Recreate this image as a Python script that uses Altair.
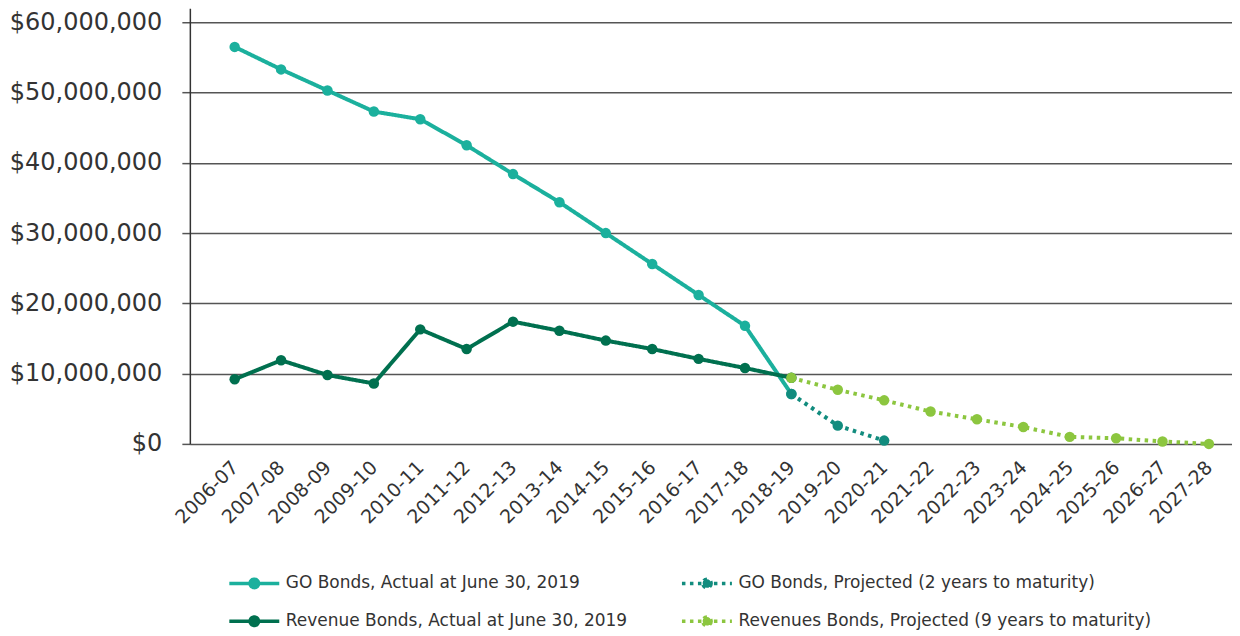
import altair as alt
import pandas as pd

years = ["2006-07", "2007-08", "2008-09", "2009-10", "2010-11", "2011-12", "2012-13",
         "2013-14", "2014-15", "2015-16", "2016-17", "2017-18", "2018-19", "2019-20",
         "2020-21", "2021-22", "2022-23", "2023-24", "2024-25", "2025-26", "2026-27",
         "2027-28"]

go_actual_years = years[0:13]
go_actual = [56.5, 53.3, 50.3, 47.3, 46.2, 42.5, 38.4, 34.4, 30.0, 25.6, 21.2, 16.8, 7.1]

rev_actual_years = years[0:13]
rev_actual = [9.2, 11.9, 9.8, 8.6, 16.3, 13.5, 17.4, 16.1, 14.7, 13.5, 12.1, 10.8, 9.4]

go_proj_years = years[12:15]
go_proj = [7.1, 2.6, 0.47]

rev_proj_years = years[12:22]
rev_proj = [9.4, 7.7, 6.2, 4.6, 3.5, 2.4, 1.0, 0.8, 0.35, 0.0]

# legend is filled column by column: left column = actual, right column = projected
series_names = [
    "GO Bonds, Actual at June 30, 2019",
    "Revenue Bonds, Actual at June 30, 2019",
    "GO Bonds, Projected (2 years to maturity)",
    "Revenues Bonds, Projected (9 years to maturity)",
]
series_colors = ["#1bb09d", "#00704f", "#128c7e", "#8cc63f"]
series_dash = [[1, 0], [1, 0], [3.5, 4.5], [3.5, 4.5]]

rows = []
draw_order = [
    (series_names[0], go_actual_years, go_actual),
    (series_names[1], rev_actual_years, rev_actual),
    (series_names[2], go_proj_years, go_proj),
    (series_names[3], rev_proj_years, rev_proj),
]
for k, (name, ys, vs) in enumerate(draw_order):
    for y, v in zip(ys, vs):
        rows.append({"year": y, "value": v * 1_000_000, "series": name, "ord": k})
df = pd.DataFrame(rows)

FONT = "DejaVu Sans"

x_enc = alt.X(
    "year:N",
    sort=years,
    scale=alt.Scale(domain=years, padding=0.732, align=0.66),
    axis=alt.Axis(
        title=None, labelAngle=-45, labelAlign="right", labelBaseline="middle",
        labelFontSize=19, labelFont=FONT, labelColor="#333333", ticks=False,
        domain=False, labelPadding=20, grid=False,
    ),
)
y_enc = alt.Y(
    "value:Q",
    scale=alt.Scale(domain=[0, 62_000_000], nice=False),
    axis=alt.Axis(
        title=None, values=[0, 10e6, 20e6, 30e6, 40e6, 50e6, 60e6], format="$,.0f",
        labelFontSize=24, labelFont=FONT, labelColor="#333333",
        tickSize=8, tickColor="#555555", tickWidth=1.5, labelPadding=20,
        gridColor="#555555", gridWidth=1.5, domainColor="#333333", domainWidth=1.5,
    ),
)

color_scale = alt.Scale(domain=series_names, range=series_colors)
dash_scale = alt.Scale(domain=series_names, range=series_dash)

legend_symbol = (
    "M-2,0L2,0"
    "M0.34,0A0.34,0.34,0,1,1,-0.34,0A0.34,0.34,0,1,1,0.34,0"
    "M0.2,0A0.2,0.2,0,1,1,-0.2,0A0.2,0.2,0,1,1,0.2,0"
    "M0.08,0A0.08,0.08,0,1,1,-0.08,0A0.08,0.08,0,1,1,0.08,0"
)

legend = alt.Legend(
    title=None, orient="none", legendX=50, legendY=561, columns=2,
    labelFont=FONT, labelFontSize=17, labelColor="#333333", labelLimit=0,
    symbolType=legend_symbol,
    symbolSize=625, symbolStrokeWidth=3.5, labelOffset=17,
    rowPadding=12, columnPadding=46,
)

lines = alt.Chart(df).mark_line(strokeWidth=4).encode(
    x=x_enc, y=y_enc,
    color=alt.Color("series:N", scale=color_scale, legend=legend),
    strokeDash=alt.StrokeDash("series:N", scale=dash_scale, legend=legend),
    detail="series:N",
    order="ord:Q",
)

points = alt.Chart(df).mark_point(filled=True, size=110, opacity=1, strokeWidth=0).encode(
    x=x_enc, y=y_enc,
    fill=alt.Fill("series:N", scale=color_scale, legend=None),
    order="ord:Q",
)

chart = alt.layer(lines, points).properties(
    width=1043, height=436, background="white",
    padding={"left": 1, "top": 0, "right": 0, "bottom": 0},
).configure_view(stroke=None)

chart.save("out.html", embed_options={"renderer": "svg", "actions": False})
